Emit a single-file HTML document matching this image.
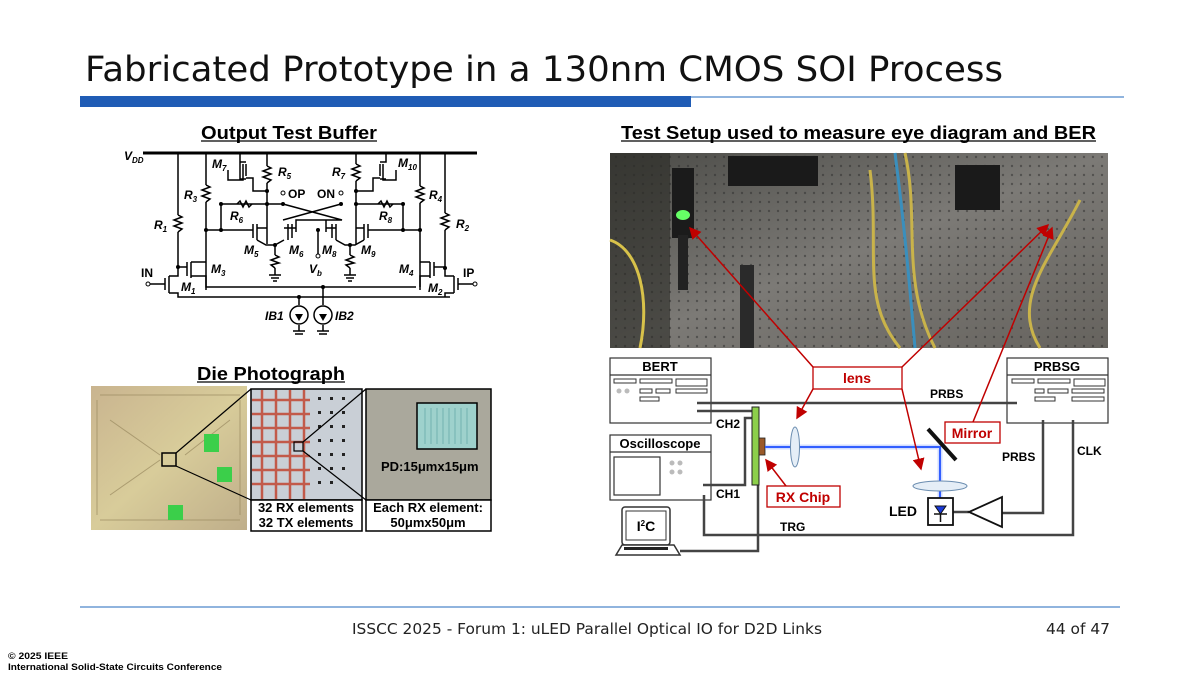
<!DOCTYPE html>
<html><head><meta charset="utf-8"><style>
html,body{margin:0;padding:0;background:#fff;}
svg{display:block;font-family:"Liberation Sans",Arial,sans-serif;}
</style></head><body>
<svg width="1200" height="675" viewBox="0 0 1200 675" xmlns="http://www.w3.org/2000/svg">
<defs>
<marker id="ar" markerWidth="8" markerHeight="8" refX="7" refY="4" orient="auto"><path d="M0,0 L8,4 L0,8z" fill="#c00000"/></marker>
<linearGradient id="ph" x1="0" y1="0" x2="1" y2="1"><stop offset="0" stop-color="#4a4a46"/><stop offset="0.5" stop-color="#7c7a76"/><stop offset="1" stop-color="#66635e"/></linearGradient>
<pattern id="dots" width="9" height="9" patternUnits="userSpaceOnUse"><circle cx="4" cy="4" r="1.2" fill="#2c2c2c"/></pattern>
<linearGradient id="die" x1="0" y1="0" x2="1" y2="1"><stop offset="0" stop-color="#c9b48f"/><stop offset="0.5" stop-color="#d8cc9a"/><stop offset="1" stop-color="#bfae8a"/></linearGradient>
</defs>
<!-- Title -->
<text x="85" y="81" font-size="35" fill="#111" font-family="DejaVu Sans, sans-serif" textLength="918" lengthAdjust="spacingAndGlyphs">Fabricated Prototype in a 130nm CMOS SOI Process</text>
<rect x="80" y="96" width="611" height="11" fill="#1f5cb5"/>
<line x1="691" y1="97" x2="1124" y2="97" stroke="#4d86c9" stroke-width="1.2"/>

<!-- Output Test Buffer -->
<text x="201" y="139" font-size="18" font-weight="bold" textLength="176" lengthAdjust="spacingAndGlyphs">Output Test Buffer</text>
<line x1="201" y1="141" x2="377" y2="141" stroke="#000" stroke-width="1.3"/>
<g stroke="#000" stroke-width="1.5" fill="none">
<line x1="143" y1="153" x2="477" y2="153" stroke-width="3"/>
<path d="M178,153 V215 M178,232 V267"/><path d="M178,215 l4,2 l-8,3 l8,3 l-8,3 l8,3 l-4,3"/>
<path d="M445,153 V213 M445,230 V268"/><path d="M445,213 l4,2 l-8,3 l8,3 l-8,3 l8,3 l-4,3"/>
<path d="M206,153 V185 M206,202 V290"/><path d="M206,185 l4,2 l-8,3 l8,3 l-8,3 l8,3 l-4,3"/>
<path d="M420,153 V186 M420,203 V290"/><path d="M420,186 l4,2 l-8,3 l8,3 l-8,3 l8,3 l-4,3"/>
<path d="M267,153 V166 M267,183 V244"/><path d="M267,166 l4,2 l-8,3 l8,3 l-8,3 l8,3 l-4,3"/>
<path d="M356,153 V164 M356,181 V244"/><path d="M356,164 l4,2 l-8,3 l8,3 l-8,3 l8,3 l-4,3"/>
<path d="M240,153 V162 M240,162 h6 M240,162 V179 h6 M246,164 V176 M243,164 V180 H228 V170 M246,178 h7 V191 H267"/>
<path d="M386,153 V162 h-6 M386,179 h-6 M383,164 V180 H396 V170 M380,164 V176 M380,178 h-7 V191 H356"/>
<path d="M221,204 H283 M356,204 H403 M283,204 L342,220 H296 V232 M341,204 L283,220"/>
<path d="M326,220 V232"/>
<path d="M237,204 l3,-3 l3,6 l3,-6 l3,6 l3,-3"/><path d="M378,204 l3,-3 l3,6 l3,-6 l3,6 l3,-3"/>
<path d="M221,204 V230 M403,204 V230"/>
<path d="M206,230 H253 M420,230 H373"/>
<path d="M253,224 V238 M257,224 V240 M257,228 H267 M257,240 L266,245 H275 L284,240 M288,224 V240 M292,224 V238 M284,228 H296"/>
<path d="M332,224 V238 M336,224 V240 M336,228 H326 M336,240 L345,245 H355 L364,240 M364,228 H356 M364,224 V240 M368,224 V238 M368,230 H373"/>
<path d="M275,245 V255 M275,268 V275 M350,245 V255 M350,268 V275 M318,230 V256"/>
<path d="M275,255 l4,2 l-8,3 l8,3 l-8,2 l4,3 M350,255 l4,2 l-8,3 l8,3 l-8,2 l4,3"/>
<path d="M269,275 h12 M271,278 h8 M273,281 h4 M344,275 h12 M346,278 h8 M348,281 h4"/>
<path d="M178,267 H187 M187,262 V276 M191,262 V278 M191,262 H206 M191,276 H206 V287 H416 M178,267 V270 M165,278 V290 M169,276 V293 M169,276 H178 V270 M169,293 H178 V297 H450 M150,284 H165"/>
<path d="M434,267 H445 M434,262 V276 M430,262 V278 M430,262 H420 M430,276 H420 V287 M458,278 V290 M454,276 V293 M454,276 H445 V268 M454,293 H445 V297 M458,284 H473"/>
<path d="M299,297 V305 M323,287 V305 M299,325 V331 M323,325 V331 M293,331 h12 M295,334 h8 M317,331 h12 M319,334 h8"/>
<circle cx="299" cy="315" r="9"/><circle cx="323" cy="315" r="9"/>
</g>
<g fill="#000"><path d="M299,321 l-4,-7 h8z M323,321 l-4,-7 h8z"/>
<circle cx="178" cy="267" r="2"/><circle cx="206" cy="230" r="2"/><circle cx="221" cy="230" r="2"/><circle cx="221" cy="204" r="2"/><circle cx="267" cy="204" r="2"/><circle cx="267" cy="191" r="2"/><circle cx="283" cy="204" r="2"/><circle cx="341" cy="204" r="2"/><circle cx="356" cy="204" r="2"/><circle cx="356" cy="191" r="2"/><circle cx="403" cy="204" r="2"/><circle cx="403" cy="230" r="2"/><circle cx="420" cy="230" r="2"/><circle cx="445" cy="268" r="2"/><circle cx="318" cy="230" r="2"/><circle cx="275" cy="245" r="2"/><circle cx="350" cy="245" r="2"/><circle cx="299" cy="297" r="2"/><circle cx="323" cy="287" r="2"/></g>
<g fill="#fff" stroke="#000" stroke-width="1"><circle cx="283" cy="193" r="2"/><circle cx="341" cy="193" r="2"/><circle cx="318" cy="256" r="2"/><circle cx="148" cy="284" r="2"/><circle cx="475" cy="284" r="2"/></g>
<g font-size="12" font-weight="bold" font-style="italic">
<text x="124" y="160">V<tspan font-size="8" dy="3">DD</tspan></text>
<text x="212" y="168">M<tspan font-size="8" dy="3">7</tspan></text>
<text x="278" y="176">R<tspan font-size="8" dy="3">5</tspan></text>
<text x="332" y="176">R<tspan font-size="8" dy="3">7</tspan></text>
<text x="398" y="167">M<tspan font-size="8" dy="3">10</tspan></text>
<text x="184" y="199">R<tspan font-size="8" dy="3">3</tspan></text>
<text x="429" y="199">R<tspan font-size="8" dy="3">4</tspan></text>
<text x="230" y="220">R<tspan font-size="8" dy="3">6</tspan></text>
<text x="379" y="220">R<tspan font-size="8" dy="3">8</tspan></text>
<text x="154" y="229">R<tspan font-size="8" dy="3">1</tspan></text>
<text x="456" y="228">R<tspan font-size="8" dy="3">2</tspan></text>
<text x="244" y="254">M<tspan font-size="8" dy="3">5</tspan></text>
<text x="289" y="254">M<tspan font-size="8" dy="3">6</tspan></text>
<text x="322" y="254">M<tspan font-size="8" dy="3">8</tspan></text>
<text x="361" y="254">M<tspan font-size="8" dy="3">9</tspan></text>
<text x="309" y="273">V<tspan font-size="8" dy="3">b</tspan></text>
<text x="211" y="273">M<tspan font-size="8" dy="3">3</tspan></text>
<text x="399" y="273">M<tspan font-size="8" dy="3">4</tspan></text>
<text x="181" y="291">M<tspan font-size="8" dy="3">1</tspan></text>
<text x="428" y="292">M<tspan font-size="8" dy="3">2</tspan></text>
<text x="265" y="320">IB1</text><text x="335" y="320">IB2</text>
</g>
<g font-size="12" font-weight="bold"><text x="288" y="198">OP</text><text x="317" y="198">ON</text><text x="141" y="277">IN</text><text x="463" y="277">IP</text></g>

<!-- Die Photograph -->
<text x="197" y="380" font-size="18" font-weight="bold" textLength="148" lengthAdjust="spacingAndGlyphs">Die Photograph</text>
<line x1="197" y1="382" x2="345" y2="382" stroke="#000" stroke-width="1.3"/>
<rect x="91" y="386" width="156" height="144" fill="url(#die)"/>
<g stroke="#9a8a60" stroke-width="1" opacity="0.7"><path d="M100,395 H240 M100,520 H240 M97,400 V515 M240,400 V515 M110,420 L160,455 M110,495 L160,460 M230,420 L185,455"/></g>
<rect x="204" y="434" width="15" height="18" fill="#3bcf4a"/><rect x="217" y="467" width="15" height="15" fill="#3bcf4a"/><rect x="168" y="505" width="15" height="15" fill="#3bcf4a"/>
<rect x="162" y="453" width="14" height="13" fill="none" stroke="#000" stroke-width="1.5"/>
<path d="M176,453 L251,389 M176,466 L251,500" stroke="#000" stroke-width="1.2"/>
<rect x="251" y="389" width="111" height="111" fill="#c9cfd6" stroke="#000" stroke-width="1.5"/>
<g stroke="#c25a4a" stroke-width="2.5"><path d="M262,390 V499 M276,390 V499 M290,390 V499 M304,390 V499 M252,400 H310 M252,414 H310 M252,428 H310 M252,442 H310 M252,456 H310 M252,470 H310 M252,484 H310"/></g>
<g fill="#222"><rect x="318" y="397" width="3" height="3"/><rect x="330" y="397" width="3" height="3"/><rect x="342" y="397" width="3" height="3"/><rect x="318" y="411" width="3" height="3"/><rect x="330" y="411" width="3" height="3"/><rect x="342" y="411" width="3" height="3"/><rect x="318" y="425" width="3" height="3"/><rect x="330" y="425" width="3" height="3"/><rect x="342" y="425" width="3" height="3"/><rect x="318" y="439" width="3" height="3"/><rect x="330" y="439" width="3" height="3"/><rect x="342" y="439" width="3" height="3"/><rect x="318" y="453" width="3" height="3"/><rect x="330" y="453" width="3" height="3"/><rect x="342" y="453" width="3" height="3"/><rect x="318" y="467" width="3" height="3"/><rect x="330" y="467" width="3" height="3"/><rect x="342" y="467" width="3" height="3"/><rect x="318" y="481" width="3" height="3"/><rect x="330" y="481" width="3" height="3"/></g>
<rect x="294" y="442" width="9" height="9" fill="none" stroke="#000" stroke-width="1.2"/>
<path d="M303,442 L366,389 M303,451 L366,500" stroke="#000" stroke-width="1.2"/>
<rect x="366" y="389" width="125" height="111" fill="#aaa89c" stroke="#000" stroke-width="1.5"/>
<rect x="417" y="403" width="60" height="46" fill="#9ed1cc" stroke="#000" stroke-width="1.5"/>
<g stroke="#6aa" stroke-width="0.8"><path d="M425,408 V444 M431,408 V444 M437,408 V444 M443,408 V444 M449,408 V444 M455,408 V444 M461,408 V444 M467,408 V444"/></g>
<text x="381" y="471" font-size="13" font-weight="bold">PD:15μmx15μm</text>
<rect x="251" y="500" width="111" height="31" fill="#fff" stroke="#000" stroke-width="1.5"/>
<rect x="366" y="500" width="125" height="31" fill="#fff" stroke="#000" stroke-width="1.5"/>
<g font-size="13" font-weight="bold" text-anchor="middle"><text x="306" y="512">32 RX elements</text><text x="306" y="527">32 TX elements</text><text x="428" y="512">Each RX element:</text><text x="428" y="527">50μmx50μm</text></g>

<!-- Test setup -->
<text x="621" y="139" font-size="18" font-weight="bold" textLength="475" lengthAdjust="spacingAndGlyphs">Test Setup used to measure eye diagram and BER</text>
<line x1="621" y1="141" x2="1096" y2="141" stroke="#000" stroke-width="1.3"/>
<rect x="610" y="153" width="498" height="195" fill="url(#ph)"/>
<rect x="610" y="153" width="498" height="195" fill="url(#dots)" opacity="0.5"/>
<rect x="610" y="153" width="60" height="195" fill="#2a2a24" opacity="0.6"/>
<rect x="672" y="168" width="22" height="70" fill="#1b1b1b"/><rect x="678" y="235" width="10" height="55" fill="#222"/>
<ellipse cx="683" cy="215" rx="7" ry="5" fill="#6f6"/>
<rect x="728" y="156" width="90" height="30" fill="#1a1a1a"/>
<rect x="740" y="265" width="14" height="83" fill="#2a2a2a"/>
<rect x="955" y="165" width="45" height="45" fill="#1a1a1a"/>
<path d="M905,153 C920,220 900,280 935,348 M870,170 C880,250 860,300 900,348 M1080,200 C1050,260 1010,300 1040,348" stroke="#c9b34a" stroke-width="3" fill="none"/>
<path d="M895,153 C905,230 910,290 915,348" stroke="#3a8fbd" stroke-width="3" fill="none"/>
<path d="M610,240 C640,250 650,300 640,348" stroke="#d8c24a" stroke-width="3" fill="none"/>

<g fill="#fff" stroke="#333" stroke-width="1.2">
<rect x="610" y="358" width="101" height="65"/><line x1="610" y1="375" x2="711" y2="375"/>
<rect x="1007" y="358" width="101" height="65"/><line x1="1007" y1="375" x2="1108" y2="375"/>
<rect x="610" y="435" width="101" height="65"/><line x1="610" y1="452" x2="711" y2="452"/>
<rect x="614" y="457" width="46" height="38"/>
</g>
<g fill="none" stroke="#333" stroke-width="1"><rect x="614" y="379" width="22" height="4"/><rect x="640" y="379" width="32" height="4"/><rect x="676" y="379" width="31" height="7"/><rect x="640" y="389" width="12" height="4"/><rect x="656" y="389" width="14" height="4"/><rect x="676" y="389" width="31" height="4"/><rect x="640" y="397" width="19" height="4"/>
<rect x="1012" y="379" width="22" height="4"/><rect x="1038" y="379" width="32" height="4"/><rect x="1074" y="379" width="31" height="7"/><rect x="1035" y="389" width="9" height="4"/><rect x="1048" y="389" width="20" height="4"/><rect x="1072" y="389" width="32" height="4"/><rect x="1035" y="397" width="20" height="4"/><rect x="1072" y="397" width="32" height="4"/></g>
<g fill="#bbb"><circle cx="619" cy="391" r="2.5"/><circle cx="627" cy="391" r="2.5"/><circle cx="672" cy="463" r="2.5"/><circle cx="680" cy="463" r="2.5"/><circle cx="672" cy="472" r="2.5"/><circle cx="680" cy="472" r="2.5"/></g>
<g font-size="13" font-weight="bold" text-anchor="middle"><text x="660" y="371">BERT</text><text x="1057" y="371">PRBSG</text><text x="660" y="448">Oscilloscope</text></g>
<g stroke="#444" stroke-width="2.5" fill="none">
<path d="M697,403 H1017"/><path d="M697,411 H752"/><path d="M703,485 H745 V418 H752"/>
<path d="M704,495 V535 H1073 V420"/><path d="M1043,420 V513 H1002"/>
<path d="M758,485 V551 H680"/><path d="M953,512 H969"/>
</g>
<g font-size="12" font-weight="bold"><text x="930" y="398">PRBS</text><text x="716" y="428">CH2</text><text x="716" y="498">CH1</text><text x="1002" y="461">PRBS</text><text x="1077" y="455">CLK</text><text x="780" y="531">TRG</text><text x="889" y="516" font-size="14">LED</text></g>
<rect x="622" y="507" width="48" height="38" rx="3" fill="#fff" stroke="#333" stroke-width="1.5"/>
<rect x="626" y="511" width="40" height="29" fill="#fff" stroke="#333" stroke-width="1"/>
<text x="646" y="531" font-size="14" font-weight="bold" text-anchor="middle">I<tspan font-size="8" dy="-5">2</tspan><tspan dy="5">C</tspan></text>
<path d="M622,545 L616,555 H680 L674,545z" fill="#fff" stroke="#333" stroke-width="1.5"/><rect x="624" y="547" width="44" height="3" fill="#222"/>
<rect x="752" y="407" width="7" height="78" fill="#8ccf4a" stroke="#222" stroke-width="1"/>
<rect x="759" y="438" width="6" height="17" fill="#9b5a2a" stroke="#222" stroke-width="0.8"/>
<path d="M765,447 H940 V500" stroke="#1a4cff" stroke-width="2" fill="none"/>
<path d="M765,447 H940 V500" stroke="#6a8cff" stroke-width="5" fill="none" opacity="0.3"/>
<ellipse cx="795" cy="447" rx="4.5" ry="20" fill="#e5eef7" stroke="#6b8db0" stroke-width="1"/>
<ellipse cx="940" cy="486" rx="27" ry="5" fill="#e5eef7" stroke="#6b8db0" stroke-width="1"/>
<line x1="928" y1="429" x2="956" y2="460" stroke="#111" stroke-width="4"/>
<rect x="928" y="498" width="25" height="27" fill="#fff" stroke="#111" stroke-width="1.8"/>
<path d="M935,506 h11 l-5.5,8z" fill="#1a3ad8" stroke="#111" stroke-width="1"/><path d="M934,514 h13 M940.5,514 V522" stroke="#111" stroke-width="1.5"/>
<path d="M969,512 L1002,497 V527z" fill="#fff" stroke="#111" stroke-width="1.8"/>
<g stroke="#c00000" stroke-width="1.5" fill="none">
<path d="M813,367 L690,228" marker-end="url(#ar)"/><path d="M902,367 L1048,225" marker-end="url(#ar)"/>
<path d="M973,422 L1052,228" marker-end="url(#ar)"/>
<path d="M813,389 L797,418" marker-end="url(#ar)"/><path d="M902,389 L921,469" marker-end="url(#ar)"/>
<path d="M786,486 L766,460" marker-end="url(#ar)"/>
</g>
<g fill="#fff" stroke="#c00000" stroke-width="1.3"><rect x="813" y="367" width="89" height="22"/><rect x="767" y="486" width="73" height="21"/><rect x="945" y="422" width="55" height="21"/></g>
<g font-size="14" font-weight="bold" fill="#c00000" text-anchor="middle"><text x="857" y="383">lens</text><text x="803" y="502">RX Chip</text><text x="972" y="438">Mirror</text></g>

<!-- Footer -->
<line x1="80" y1="607" x2="1120" y2="607" stroke="#4d86c9" stroke-width="1.2"/>
<text x="352" y="634" font-size="15" fill="#222" font-family="DejaVu Sans, sans-serif" textLength="470" lengthAdjust="spacingAndGlyphs">ISSCC 2025 - Forum 1: uLED Parallel Optical IO for D2D Links</text>
<text x="1046" y="634" font-size="15" fill="#222" font-family="DejaVu Sans, sans-serif" textLength="64" lengthAdjust="spacingAndGlyphs">44 of 47</text>
<text x="8" y="659" font-size="9" font-weight="bold" textLength="60" lengthAdjust="spacingAndGlyphs">© 2025 IEEE</text>
<text x="8" y="670" font-size="9" font-weight="bold" textLength="214" lengthAdjust="spacingAndGlyphs">International Solid-State Circuits Conference</text>
</svg>
</body></html>
